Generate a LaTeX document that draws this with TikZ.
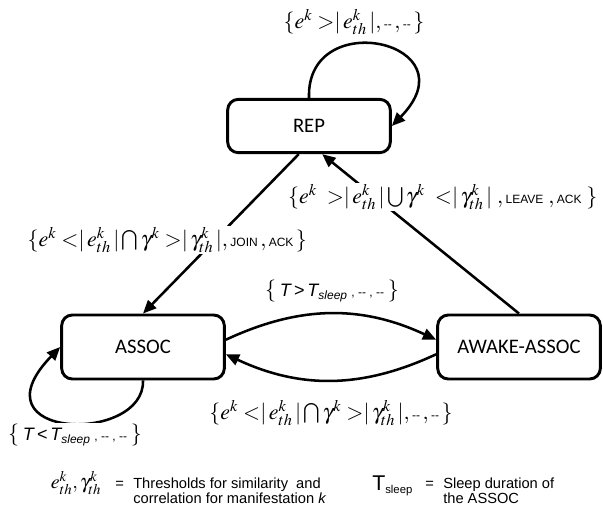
\documentclass[tikz,border=0pt]{standalone}
\usepackage{mathptmx}
\usepackage{fontspec}
\usetikzlibrary{arrows.meta}
\newfontfamily\boxfont{Carlito}
\newfontfamily\arl{Liberation Sans}
\newcommand{\thr}[1]{\mathopen{|}\,#1^{k}_{th}\,\mathclose{|}}
\newcommand{\smsf}[1]{\mbox{\arl\fontsize{9}{10}\selectfont #1}}
\newcommand{\dd}{\smsf{-{}-}}
\newcommand{\Tsleep}{{\arl\fontsize{13.5}{15}\selectfont\itshape T\textsubscript{\fontsize{9}{10}\selectfont sleep}}}
\tikzset{
  state/.style={draw, line width=2.2pt, rounded corners=8pt, minimum width=122pt,
    font=\boxfont\fontsize{15.5}{18}\selectfont},
  trans/.style={line width=1.9pt, -{Triangle[length=10pt,width=8.5pt]}},
  cond/.style={fill=white, inner sep=1pt, font=\fontsize{16.5}{18}\selectfont},
  legend/.style={font=\arl\fontsize{11}{13}\selectfont, inner sep=0pt, anchor=base west}
}
\begin{document}
\begin{tikzpicture}[x=0.75pt,y=-0.75pt]
\useasboundingbox (0,0) rectangle (603,515);
% estados
\node[state, minimum height=40pt] (rep) at (309,126) {REP};
\node[state, minimum height=48pt] (assoc) at (143,347) {ASSOC};
\node[state, minimum height=48pt] (awake) at (519,347) {AWAKE-ASSOC};
% transiciones
\draw[trans] (rep.north) .. controls +(-3,-93) and +(82,-84) .. (rep.east);
\draw[trans] (assoc.south) .. controls +(2,64) and +(-90,93) .. (assoc.west);
\draw[trans] (rep.250) -- (assoc.north);
\draw[trans] (awake.north) -- (rep.295);
\draw[trans] (assoc.5) to[bend left=25] (awake.175);
\draw[trans] (awake.185) to[bend left=25] (assoc.355);
% condiciones
\node[cond] (crep) at (354,22) {$\{e^{k}\;{>}\thr{e}, \dd\,, \dd\,\}$};
\node[cond, anchor=west] (cjoin) at (26,240) {$\{e^{k}\;{<}\thr{e}\bigcap\gamma^{k}\;{>}\thr{\gamma}, \smsf{JOIN}\,, \smsf{ACK}\,\}$};
\node[cond, anchor=east] (cleave) at (599,197) {$\{e^{k}\;\;{>}\thr{e}\bigcup\gamma^{k}\;\;{<}\thr{\gamma}\;, \smsf{LEAVE}\;, \smsf{ACK}\;\}$};
\node[cond] (cback) at (331,413) {$\{e^{k}\;{<}\thr{e}\bigcap\gamma^{k}\;{>}\thr{\gamma}, \dd\,, \dd\,\}$};
\node[cond] (cwake) at (332,291) {$\{$\,{\arl\fontsize{13.5}{15}\selectfont\itshape T\,>\,}\Tsleep\,{\arl\fontsize{9}{10}\selectfont, -{}- , -{}-}\,$\}$};
\node[cond] (csleep) at (75,435) {$\{$\,{\arl\fontsize{13.5}{15}\selectfont\itshape T\,<\,}\Tsleep\,{\arl\fontsize{9}{10}\selectfont, -{}- , -{}-}\,$\}$};
% leyenda
\node[font=\fontsize{15}{17}\selectfont] (lsym) at (76,483) {$e^{k}_{th},\gamma^{k}_{th}$};
\node[legend] (leqa) at (115,488) {=};
\node[legend] (lthra) at (133,488) {Thresholds for similarity\ \ and};
\node[legend] (lthrb) at (133,503) {correlation for manifestation {\itshape k}};
\node[legend, font=\arl\fontsize{16}{18}\selectfont] (ltsl) at (372,490) {T\textsubscript{\fontsize{8.5}{10}\selectfont sleep}};
\node[legend] (leqb) at (425,488) {=};
\node[legend] (lslpa) at (443,488) {Sleep duration of};
\node[legend] (lslpb) at (443,503) {the ASSOC};
\end{tikzpicture}
\end{document}
